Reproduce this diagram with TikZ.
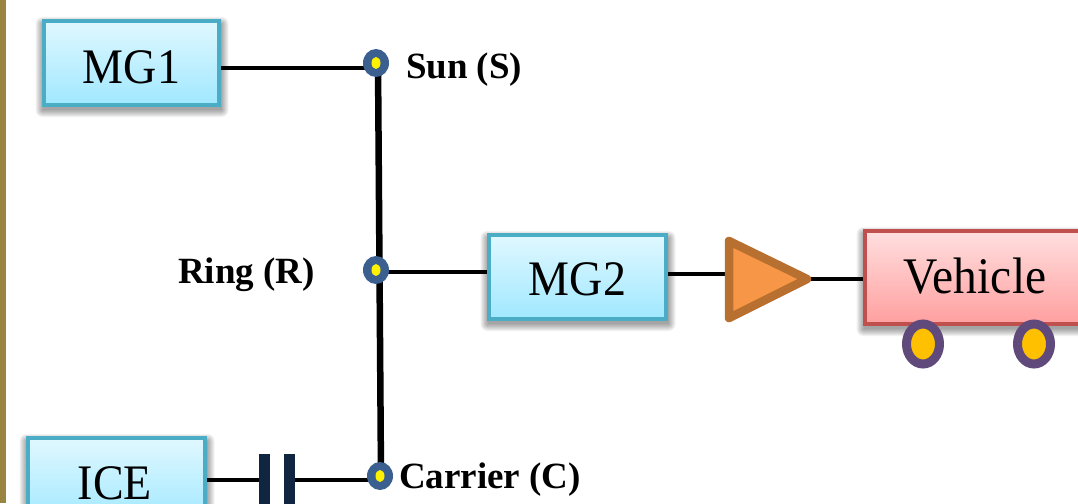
\documentclass[tikz,border=0pt]{standalone}
\usepackage{fontspec}
\setmainfont{Liberation Serif}
\usetikzlibrary{shapes.geometric,backgrounds}
\definecolor{barc}{HTML}{998540}
\definecolor{boxedge}{HTML}{4BACC6}
\definecolor{boxtop}{HTML}{E0F8FF}
\definecolor{boxbot}{HTML}{A0E8FF}
\definecolor{redge}{HTML}{C0504D}
\definecolor{rtop}{HTML}{FFDFDF}
\definecolor{rbot}{HTML}{FF9F9F}
\definecolor{dotc}{HTML}{3B5F8F}
\definecolor{clutchc}{HTML}{10253F}
\definecolor{triedge}{HTML}{B87030}
\definecolor{trifill}{HTML}{F79646}
\definecolor{wheeledge}{HTML}{604A7B}
\definecolor{wheelfill}{HTML}{FFC000}
\newcommand{\softshade}[4]{%
  \foreach \g in {0,1,...,7}{
    \fill[black,opacity=.05,rounded corners=\g pt]
      (#1+0.5-\g,#2+5-\g) rectangle (#3+0.5+\g,#4+3+\g);
  }}
\newcommand{\bigtext}[1]{\fontsize{46}{46}\selectfont\scalebox{1}[1.08]{#1}}
\newcommand{\lbltext}[1]{\fontsize{37}{37}\selectfont\bfseries #1}
\tikzset{
  x=1pt,y=-1pt,
  blockbox/.style={draw=boxedge,line width=4pt,top color=boxtop,bottom color=boxbot,
    minimum width=#1,minimum height=84pt,inner sep=0pt,outer sep=0pt,text=black},
  vehbox/.style={draw=redge,line width=4pt,top color=rtop,bottom color=rbot,
    minimum width=300pt,minimum height=93pt,inner sep=0pt,outer sep=0pt},
  junction/.style={ellipse,fill=dotc,minimum width=26pt,minimum height=28pt,inner sep=0pt,outer sep=0pt},
  junccore/.style={ellipse,fill=yellow,minimum width=9pt,minimum height=12pt,inner sep=0pt},
  wheel/.style={ellipse,draw=wheeledge,fill=wheelfill,line width=9pt,minimum width=33pt,minimum height=40pt,inner sep=0pt,outer sep=0pt},
  clutchbar/.style={fill=clutchc,minimum width=11pt,minimum height=60pt,inner sep=0pt,outer sep=0pt},
  shaft/.style={black,line width=3.2pt},
  bigshaft/.style={black,line width=6.5pt},
  lbl/.style={inner sep=0pt,outer sep=0pt,text=black}
}
\begin{document}
\begin{tikzpicture}
\useasboundingbox (0,0) rectangle (1078,503);
\clip (0,0) rectangle (1078,503);
% blocks
\node[blockbox=175pt,text height=40pt,text depth=0pt] (mgone) at (131.5,63) {\bigtext{MG1}};
\node[blockbox=177pt,text height=36pt,text depth=0pt] (mgtwo) at (577.5,277) {\bigtext{MG2}};
\node[blockbox=177pt,minimum height=86pt] (ice) at (116,481) {};
\node[lbl,anchor=base] (icetxt) at (115,499) {\bigtext{ICE}};
\node[vehbox] (veh) at (1015,277.5) {};
\node[lbl,anchor=base] (vehtxt) at (975,293) {\fontsize{47.5}{47.5}\selectfont\scalebox{1}[1.08]{Vehicle}};
% junctions
\node[junction] (sun) at (376,63) {};
\node[junccore] (suncore) at (sun) {};
\node[junction] (ring) at (376,270) {};
\node[junccore] (ringcore) at (ring) {};
\node[junction] (carrier) at (380,476) {};
\node[junccore] (carriercore) at (carrier) {};
% labels
\node[lbl,anchor=base west] (sunl) at (406,78) {\lbltext{Sun (S)}};
\node[lbl,anchor=base west] (ringl) at (178,283) {\lbltext{Ring (R)}};
\node[lbl,anchor=base west] (carrl) at (399,488) {\lbltext{Carrier (C)}};
% clutch
\node[clutchbar] (cla) at (264.5,484) {};
\node[clutchbar] (clb) at (289.5,484) {};
% final drive
\coordinate (triin) at (729,274);
\coordinate (triout) at (807,279);
\draw[triedge,fill=trifill,line width=8.5pt,line join=round]
  (729,241) -- (triout) -- (729,318) -- cycle;
% wheels
\node[wheel] (wa) at (923,344) {};
\node[wheel] (wb) at (1034,344) {};
% connectors and backdrop
\begin{pgfonlayer}{background}
\fill[white] (0,0) rectangle (1078,503);
\fill[barc] (0,0) rectangle (6,503);
\softshade{42}{19}{221}{107}
\softshade{487}{233}{668}{321}
\softshade{26}{436}{207}{526}
\softshade{863}{229}{1170}{326}
\draw[shaft] ([yshift=-5pt]mgone.east) -- ([yshift=-5pt]sun.center);
\draw[shaft] ([yshift=-2pt]ring.center) -- (mgtwo.west |- 0,272);
\draw[shaft] (mgtwo.east |- 0,274) -- (triin);
\draw[shaft] (triout) -- (veh.west |- 0,279);
\draw[shaft] (ice.east |- 0,480) -- (cla.center |- 0,480);
\draw[shaft] (clb.center |- 0,480) -- (carrier.center |- 0,480);
\draw[bigshaft] ([xshift=2pt]sun.center) -- ([xshift=1pt]carrier.center);
\end{pgfonlayer}
\end{tikzpicture}
\end{document}
